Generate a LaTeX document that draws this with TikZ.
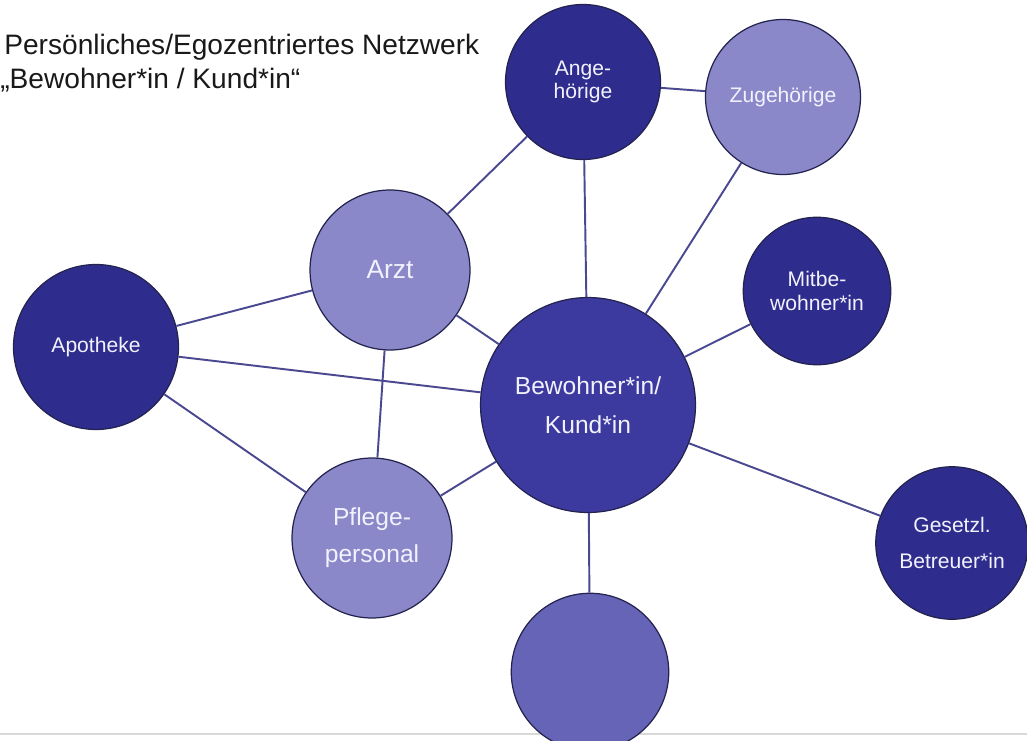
\documentclass[tikz,border=0pt]{standalone}
\usepackage{fontspec}
\setmainfont{Liberation Sans}
\definecolor{Deep}{HTML}{2E2C8C}
\definecolor{Core}{HTML}{3C3A9E}
\definecolor{Pale}{HTML}{8A88C8}
\definecolor{Mid}{HTML}{6664B6}
\definecolor{Rim}{HTML}{24234F}
\definecolor{Link}{HTML}{4A4890}
\definecolor{Label}{HTML}{F2F2FF}
\tikzset{
  person/.style={
    circle, draw=Rim, line width=0.7pt, text=Label, align=center,
    inner sep=0pt, font=\fontsize{12}{14}\selectfont
  },
  dark/.style={person, fill=Deep},
  light/.style={person, fill=Pale},
  tie/.style={draw=Link, line width=1.1pt}
}
\begin{document}
\begin{tikzpicture}[x=0.02cm,y=-0.02cm]
  \useasboundingbox (0,0) rectangle (1027,740);
  \clip (0,0) rectangle (1027,740);
  \draw[black!15, line width=1pt] (0,734) -- (1027,734);
  % ego and network
  \node[person, fill=Core, minimum size=4.3cm, font=\fontsize{14}{22}\selectfont]
    (ego) at (588,405) {Bewohner*in/\\Kund*in};
  \node[dark, minimum size=3.1cm, font=\fontsize{12}{13}\selectfont] (ang) at (583,82) {Ange-\\hörige};
  \node[light, minimum size=3.1cm] (zug) at (783,97) {Zugehörige};
  \node[light, minimum size=3.2cm, font=\fontsize{15}{18}\selectfont] (arzt) at (390,270) {Arzt};
  \node[dark, minimum size=2.95cm] (mit) at (817,291) {Mitbe-\\wohner*in};
  \node[dark, minimum size=3.3cm] (apo) at (96,347) {Apotheke};
  \node[light, minimum size=3.2cm, font=\fontsize{14}{21}\selectfont] (pfl) at (372,538) {Pflege-\\personal};
  \node[dark, minimum size=3.05cm, font=\fontsize{12}{21}\selectfont] (ges) at (952,543) {Gesetzl.\\Betreuer*in};
  \node[person, fill=Mid, minimum size=3.15cm] (leer) at (590,672) {};
  % connections
  \draw[tie] (ego) -- (ang);
  \draw[tie] (ego) -- (zug);
  \draw[tie] (ego) -- (mit);
  \draw[tie] (ego) -- (ges);
  \draw[tie] (ego) -- (leer);
  \draw[tie] (ego) -- (pfl);
  \draw[tie] (ego) -- (apo);
  \draw[tie] (ego) -- (arzt);
  \draw[tie] (ang) -- (zug);
  \draw[tie] (ang) -- (arzt);
  \draw[tie] (arzt) -- (apo);
  \draw[tie] (arzt) -- (pfl);
  \draw[tie] (apo) -- (pfl);
  % title
  \node[anchor=west, inner sep=0pt, font=\fontsize{16}{19}\selectfont, text=black!90]
    (titel) at (4,47) {Persönliches/Egozentriertes Netzwerk};
  \node[anchor=west, inner sep=0pt, font=\fontsize{16}{19}\selectfont, text=black!90]
    (untertitel) at (0,80) {„Bewohner*in / Kund*in“};
\end{tikzpicture}
\end{document}
